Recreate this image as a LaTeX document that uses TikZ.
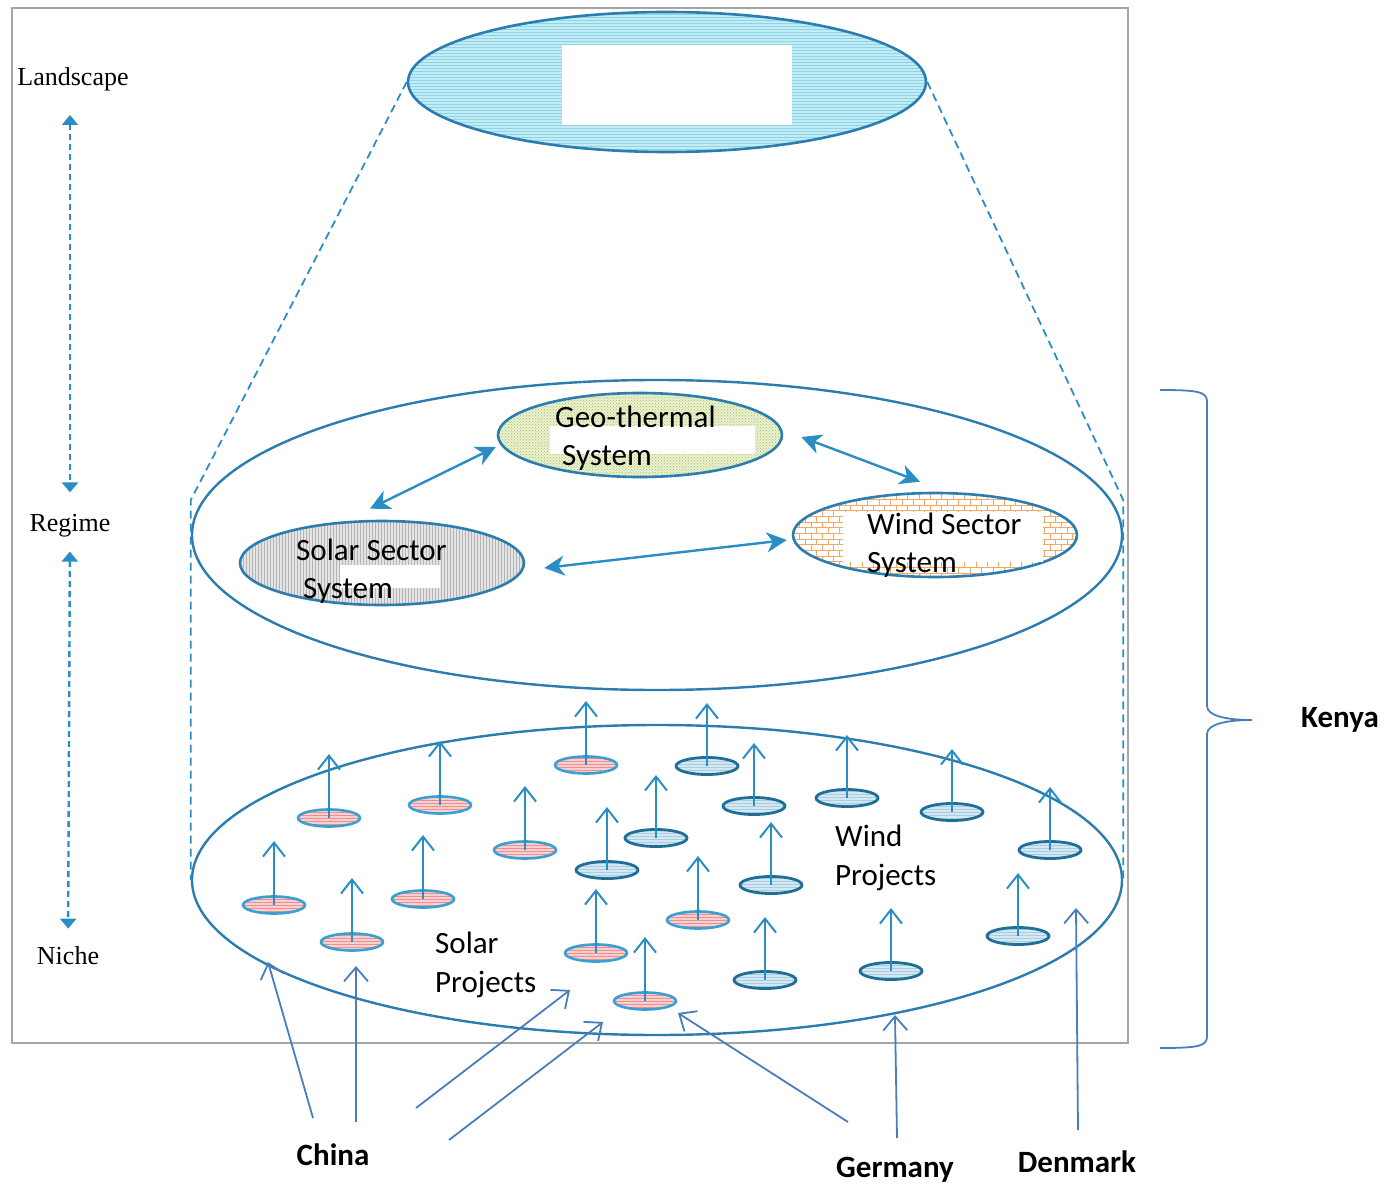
\documentclass[tikz,border=0pt]{standalone}
\usepackage{fontspec}
\setmainfont{Carlito}
\newfontfamily\levelfont{Liberation Serif}
\usepackage{tikz}
\usetikzlibrary{shapes,arrows,arrows.meta,patterns}

\definecolor{rim}{HTML}{2A7DAE}
\definecolor{rimdark}{HTML}{1F6E96}
\definecolor{rimlight}{HTML}{3A9FD2}
\definecolor{flow}{HTML}{2B8DC5}
\definecolor{link}{HTML}{4A7EBB}
\definecolor{sky}{HTML}{C4ECF4}
\definecolor{skyline}{HTML}{8FD3E6}
\definecolor{geofill}{HTML}{EBF1CF}
\definecolor{geodots}{HTML}{A3C06A}
\definecolor{solarfill}{HTML}{E4E4E4}
\definecolor{solarline}{HTML}{B4B4B4}
\definecolor{windbrick}{HTML}{F2A765}
\definecolor{pinkfill}{HTML}{F9D0D0}
\definecolor{pinkline}{HTML}{EE8F8F}
\definecolor{bluefill}{HTML}{D4E8F2}
\definecolor{blueline}{HTML}{A8CDE3}

\tikzstyle{frame} = [draw=gray!70, line width=1.3pt]
\tikzstyle{layer} = [ellipse, draw=rim, line width=2.4pt, inner sep=0pt,
    minimum width=930pt, minimum height=310pt]
\tikzstyle{sector} = [ellipse, draw=rim, line width=2.6pt, inner sep=0pt,
    minimum width=284pt, minimum height=84pt]
\tikzstyle{solarp} = [ellipse, draw=rimlight, line width=2.6pt, inner sep=0pt,
    minimum width=62pt, minimum height=17pt, preaction={fill=pinkfill},
    pattern=horizontal lines, pattern color=pinkline]
\tikzstyle{windp} = [ellipse, draw=rimdark, line width=2.8pt, inner sep=0pt,
    minimum width=62pt, minimum height=17pt, preaction={fill=bluefill},
    pattern=horizontal lines, pattern color=blueline]
\tikzstyle{rise} = [draw=flow, line width=2pt,
    -{Straight Barb[length=14pt, width=22pt, line width=2pt]}]
\tikzstyle{interplay} = [draw=flow, line width=2.4pt,
    {Stealth[length=20pt, width=20pt, inset=6pt]}-{Stealth[length=20pt, width=20pt, inset=6pt]}]
\tikzstyle{cone} = [draw=flow, line width=1.8pt, dash pattern=on 8pt off 5pt]
\tikzstyle{levelarrow} = [draw=flow, line width=2.4pt, dash pattern=on 6pt off 4pt,
    {Triangle[length=10pt, width=16pt]}-{Triangle[length=10pt, width=16pt]}]
\tikzstyle{origin} = [draw=link, line width=1.8pt,
    -{Straight Barb[length=14pt, width=24pt, line width=1.8pt]}]
\tikzstyle{tier} = [font=\levelfont\fontsize{26}{30}\selectfont, inner sep=2pt]
\tikzstyle{sectortext} = [font=\fontsize{31}{38.5}\selectfont, align=left,
    anchor=west, inner sep=0pt]
\tikzstyle{country} = [font=\fontsize{31}{36}\selectfont\bfseries, inner sep=0pt]

\begin{document}
\begin{tikzpicture}[x=1pt, y=-1pt, >=latex']
          \useasboundingbox (0,0) rectangle (1387,1185);
          \draw[frame] (12,8) rectangle (1128,1043);

          % Place the levels
          \node [tier] (land) at (73,79) {Landscape};
          \node [tier] (reg) at (70,526) {Regime};
          \node [tier] (nic) at (68,956) {Niche};
          \draw [levelarrow, shorten <=22pt, shorten >=20pt] (land.south -| reg) -- (reg);
          \draw [levelarrow, shorten <=12pt, shorten >=16pt] (reg) -- (nic);

          % Place the layers
          \node [ellipse, draw=rim, line width=2.6pt, inner sep=0pt, minimum width=518pt,
              minimum height=140pt, preaction={fill=sky}, pattern=horizontal lines,
              pattern color=skyline] (top) at (667,82) {};
          \fill [white] (562,45) rectangle (792,125);
          \node [layer, fill=white] (regime) at (657,535) {};
          \node [layer] (niche) at (657,880) {};
          \draw [cone] (top.west) -- ([yshift=35pt]regime.west) -- (niche.west);
          \draw [cone] (top.east) -- ([yshift=35pt]regime.east) -- (niche.east);

          % Sector systems
          \node [sector, preaction={fill=geofill}, pattern=crosshatch dots,
              pattern color=geodots] (geo) at (640,435) {};
          \node [sector, preaction={fill=solarfill}, pattern=vertical lines,
              pattern color=solarline] (solar) at (382,563) {};
          \node [sector, preaction={fill=white}, pattern=bricks,
              pattern color=windbrick] (wind) at (935,535) {};
          \fill [white] (550,426) rectangle (755,454);
          \fill [white] (340,565) rectangle (440,588);
          \fill [white] (843,512) rectangle (1043,562);
          \node [sectortext] (geotxt) at (555,438) {Geo-thermal\\\hspace*{7pt}System};
          \node [sectortext] (solartxt) at (296,571) {Solar Sector\\\hspace*{7pt}System};
          \node [sectortext] (windtxt) at (867,545) {Wind Sector\\System};

          \draw [interplay] ([xshift=-1pt,yshift=-12pt]geo.west) -- ([xshift=-12pt,yshift=11pt]solar.north);
          \draw [interplay] ([xshift=18pt,yshift=-2pt]geo.east) -- ([xshift=-15pt,yshift=10pt]wind.north);
          \draw [interplay] ([xshift=19pt,yshift=-5pt]solar.east) -- ([xshift=-5pt,yshift=-5pt]wind.west);

          % Niche projects
          \foreach \px/\py [count=\i] in {329/818, 440/805, 586/765, 525/850, 274/905,
              423/899, 352/942, 596/953, 698/920, 645/1001}
          {
            \node [solarp] (sp\i) at (\px,\py) {};
            \draw [rise] (sp\i.center) -- ++(0,-64);
          }
          \foreach \px/\py [count=\i] in {707/766, 754/806, 847/798, 952/812, 656/838,
              607/870, 771/885, 1050/850, 1018/936, 891/971, 765/980}
          {
            \node [windp] (wp\i) at (\px,\py) {};
            \draw [rise] (wp\i.center) -- ++(0,-63);
          }
          \node [sectortext] (soltxt) at (435,965) {Solar\\Projects};
          \node [sectortext] (wndtxt) at (835,858) {Wind\\Projects};

          % Countries
          \node [country] (kenya) at (1340,720) {Kenya};
          \node [country] (china) at (333,1155) {China};
          \node [country] (germany) at (895,1170) {Germany};
          \node [country] (denmark) at (1077,1162) {Denmark};

          \coordinate (btop) at (1160,390);
          \coordinate (bmid) at (1252,720);
          \coordinate (bbot) at (1160,1048);
          \draw [draw=link, line width=1.8pt] (btop) .. controls +(40,0) and +(0,-10) .. (1207,402)
              -- (1207,706) .. controls +(0,10) and +(-25,0) .. (bmid)
              .. controls +(-25,0) and +(0,-10) .. (1207,734)
              -- (1207,1036) .. controls +(0,10) and +(40,0) .. (bbot);

          \coordinate (c1) at (313,1118);  \coordinate (e1) at (268,962);
          \coordinate (c2) at (356,1122);  \coordinate (e2) at (356,966);
          \coordinate (c3) at (416,1108);  \coordinate (e3) at (570,990);
          \coordinate (c4) at (449,1140);  \coordinate (e4) at (603,1022);
          \coordinate (g1) at (848,1122);  \coordinate (e5) at (678,1013);
          \coordinate (g2) at (897,1138);  \coordinate (e6) at (895,1015);
          \coordinate (d1) at (1078,1130); \coordinate (e7) at (1076,908);

          % Connections
          \draw [origin] (c1) -- (e1);
          \draw [origin] (c2) -- (e2);
          \draw [origin] (c3) -- (e3);
          \draw [origin] (c4) -- (e4);
          \draw [origin] (g1) -- (e5);
          \draw [origin] (g2) -- (e6);
          \draw [origin] (d1) -- (e7);
      \end{tikzpicture}
\end{document}
